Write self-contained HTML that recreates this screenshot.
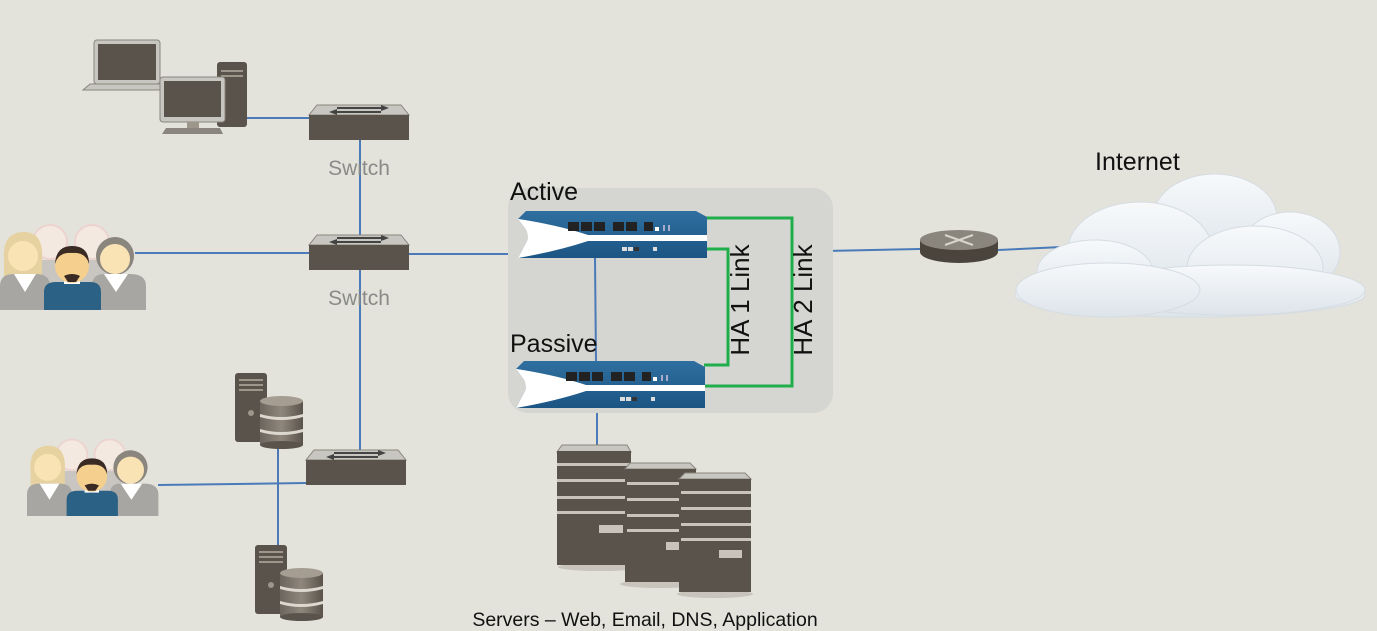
<!DOCTYPE html>
<html><head><meta charset="utf-8"><style>
html,body{margin:0;padding:0;background:#e3e3dc;}
svg{display:block;}
text{font-family:"Liberation Sans",sans-serif;}
</style></head><body>
<svg width="1377" height="631" viewBox="0 0 1377 631" xmlns="http://www.w3.org/2000/svg">
<defs>
<linearGradient id="fw" x1="0" y1="0" x2="0" y2="1"><stop offset="0" stop-color="#2f6f9f"/><stop offset="1" stop-color="#1b5584"/></linearGradient>
<linearGradient id="drum" x1="0" y1="0" x2="1" y2="0"><stop offset="0" stop-color="#6b655d"/><stop offset="0.5" stop-color="#8f877c"/><stop offset="1" stop-color="#5a534b"/></linearGradient>
<linearGradient id="cl" x1="0" y1="0" x2="0" y2="1"><stop offset="0" stop-color="#f7f9fb"/><stop offset="1" stop-color="#dde4ea"/></linearGradient>
<g id="sw">
<polygon points="8,0 92,0 100,10 0,10" fill="#c8c6c0" stroke="#8a857d" stroke-width="1"/>
<rect x="0" y="10" width="100" height="25" fill="#5a534b"/>
<line x1="28" y1="3" x2="72" y2="3" stroke="#444" stroke-width="2"/><polygon points="72,0 80,3 72,6" fill="#444"/>
<line x1="28" y1="7" x2="72" y2="7" stroke="#444" stroke-width="2"/><polygon points="28,4 20,7 28,10" fill="#444"/>
</g>
<g id="fwg">
<polygon points="8,0 178,0 189,6 189,47 0,47 12,24 0,8" fill="url(#fw)"/>
<path d="M0,8 Q40,14 70,24 L189,24 L189,30 L70,30 Q40,40 0,47 L12,24 Z" fill="#fff"/>
<path d="M0,8 Q40,14 70,26 Q40,38 0,47 Q20,26 0,8Z" fill="#fff"/>
<rect x="50" y="11" width="11" height="9" fill="#222"/><rect x="63" y="11" width="11" height="9" fill="#222"/><rect x="76" y="11" width="11" height="9" fill="#222"/>
<rect x="95" y="11" width="11" height="9" fill="#222"/><rect x="108" y="11" width="11" height="9" fill="#222"/>
<rect x="126" y="11" width="9" height="9" fill="#222"/><rect x="137" y="16" width="4" height="4" fill="#fff"/><rect x="145" y="14" width="2" height="6" fill="#aac"/><rect x="150" y="14" width="2" height="6" fill="#aac"/>
<rect x="104" y="36" width="5" height="4" fill="#ddd"/><rect x="110" y="36" width="5" height="4" fill="#ddd"/><rect x="116" y="36" width="5" height="4" fill="#333"/><rect x="135" y="36" width="4" height="4" fill="#ddd"/>
</g>
<g id="db">
<rect x="0" y="0" width="32" height="69" rx="3" fill="#5a534b"/>
<rect x="4" y="6" width="24" height="2" fill="#9d968b"/><rect x="4" y="11" width="24" height="2" fill="#9d968b"/><rect x="4" y="16" width="24" height="2" fill="#9d968b"/>
<circle cx="16" cy="40" r="3" fill="#9d968b"/>
<rect x="25" y="28" width="43" height="44" fill="url(#drum)"/>
<ellipse cx="46.5" cy="28" rx="21.5" ry="5" fill="#a59d91"/>
<path d="M25,41 Q46,47 68,41 L68,44 Q46,50 25,44Z" fill="#ddd8cf"/>
<path d="M25,56 Q46,62 68,56 L68,59 Q46,65 25,59Z" fill="#ddd8cf"/>
<ellipse cx="46.5" cy="72" rx="21.5" ry="4" fill="#5a534b"/>
</g>
<g id="people">
<!-- back -->
<circle cx="50" cy="22" r="17" fill="#f3e9e0" stroke="#ecd3cf" stroke-width="2"/>
<circle cx="92" cy="22" r="17" fill="#f3e9e0" stroke="#ecd3cf" stroke-width="2"/>
<path d="M28,75 L28,52 Q28,40 44,40 L100,40 Q114,40 114,52 L114,75Z" fill="#c9c6c1"/>
<!-- left woman -->
<path d="M4,40 Q2,12 24,12 Q44,12 42,40 L42,58 L4,58Z" fill="#e6d2a0"/>
<circle cx="23" cy="36" r="15" fill="#f9e3b4"/>
<path d="M0,90 L0,66 Q0,54 14,54 L36,54 Q50,54 50,66 L50,90Z" fill="#a8a6a2"/>
<polygon points="14,54 36,54 25,72" fill="#fff"/>
<!-- right woman -->
<circle cx="115" cy="36" r="19" fill="#8a857d"/><circle cx="115" cy="39" r="15" fill="#f9e3b4"/>
<path d="M92,90 L92,66 Q92,54 104,54 L130,54 Q146,54 146,66 L146,90Z" fill="#a8a6a2"/>
<polygon points="104,54 128,54 116,72" fill="#fff"/>
<!-- man -->
<path d="M44,90 L44,72 Q44,62 56,62 L90,62 Q101,62 101,72 L101,90Z" fill="#2a6184"/>
<rect x="64" y="58" width="16" height="6" fill="#fff"/>
<circle cx="72" cy="46" r="17" fill="#f4cf8e"/>
<path d="M55,44 Q56,26 72,26 Q89,26 89,44 Q86,32 72,33 Q58,32 55,44Z" fill="#3a2a24"/>
<path d="M64,56 Q72,52 80,56 L76,62 L68,62Z" fill="#3a2a24"/>
</g>
</defs>

<g stroke="#4a7ab8" stroke-width="2" fill="none">
<line x1="247" y1="118" x2="309" y2="118"/>
<line x1="360" y1="140" x2="360" y2="470"/>
<line x1="135" y1="253" x2="309" y2="253"/>
<line x1="409" y1="254" x2="518" y2="254"/>
<line x1="158" y1="485" x2="306" y2="483"/>
<line x1="278" y1="443" x2="278" y2="545"/>
<line x1="597" y1="408" x2="597" y2="446"/>
<line x1="825" y1="251" x2="920" y2="249"/>
<line x1="998" y1="250" x2="1062" y2="247"/>
</g>

<rect x="508" y="188" width="325" height="225" rx="20" fill="#d5d5d1"/>
<g stroke="#1fae4b" stroke-width="3" fill="none">
<polyline points="705,218 792,218 792,386 704,386"/>
<polyline points="705,249 728,249 728,365 704,365"/>
</g>
<line x1="595" y1="258" x2="596" y2="362" stroke="#4a7ab8" stroke-width="2"/>
<use href="#fwg" x="518" y="211"/>
<use href="#fwg" x="516" y="361"/>
<text x="510" y="200" font-size="25" fill="#111">Active</text>
<text x="510" y="352" font-size="25" fill="#111">Passive</text>
<text transform="translate(749,300) rotate(-90)" text-anchor="middle" font-size="26" fill="#111">HA 1 Link</text>
<text transform="translate(812,300) rotate(-90)" text-anchor="middle" font-size="26" fill="#111">HA 2 Link</text>

<use href="#sw" x="309" y="105"/>
<use href="#sw" x="309" y="235"/>
<use href="#sw" x="306" y="450"/>
<text x="359" y="175" text-anchor="middle" font-size="21" fill="#8a8a88">Switch</text>
<text x="359" y="305" text-anchor="middle" font-size="21" fill="#8a8a88">Switch</text>

<rect x="94" y="40" width="66" height="44" rx="3" fill="#c8c6c0" stroke="#8a857d"/>
<rect x="98" y="44" width="58" height="36" fill="#5a534b"/>
<polygon points="90,84 164,84 166,90 83,90" fill="#c8c6c0" stroke="#8a857d"/>
<rect x="217" y="62" width="30" height="65" rx="3" fill="#5a534b"/>
<rect x="221" y="70" width="22" height="2" fill="#9d968b"/><rect x="221" y="75" width="22" height="2" fill="#9d968b"/>
<rect x="160" y="77" width="65" height="45" rx="3" fill="#c8c6c0" stroke="#8a857d"/>
<rect x="164" y="81" width="57" height="36" fill="#5a534b"/>
<rect x="187" y="122" width="12" height="6" fill="#9d968b"/>
<polygon points="166,128 220,128 223,134 162,134" fill="#8a857d"/>

<use href="#people" x="0" y="220"/>
<g transform="translate(27,435) scale(0.9)"><use href="#people"/></g>

<use href="#db" x="235" y="373"/>
<use href="#db" x="255" y="545"/>

<g>
<ellipse cx="600" cy="567" rx="42" ry="4" fill="#c8c4bb"/>
<polygon points="562,445 627,445 631,452 557,452" fill="#c8c6c0" stroke="#8a857d"/>
<rect x="557" y="451" width="74" height="114" fill="#5a534b"/>
<g fill="#c8c4bb"><rect x="557" y="463" width="74" height="3"/><rect x="557" y="479" width="74" height="3"/><rect x="557" y="496" width="74" height="3"/><rect x="557" y="511" width="74" height="3"/><rect x="599" y="525" width="24" height="8"/></g>
<ellipse cx="660" cy="584" rx="40" ry="4" fill="#c8c4bb"/>
<polygon points="630,463 690,463 696,469 625,469" fill="#c8c6c0" stroke="#8a857d"/>
<rect x="625" y="469" width="71" height="113" fill="#5a534b"/>
<g fill="#c8c4bb"><rect x="627" y="482" width="69" height="3"/><rect x="627" y="498" width="69" height="3"/><rect x="627" y="514" width="69" height="3"/><rect x="627" y="529" width="69" height="3"/><rect x="666" y="542" width="16" height="8"/></g>
<ellipse cx="715" cy="594" rx="38" ry="4" fill="#c8c4bb"/>
<polygon points="685,473 745,473 751,479 679,479" fill="#c8c6c0" stroke="#8a857d"/>
<rect x="679" y="479" width="72" height="113" fill="#5a534b"/>
<g fill="#c8c4bb"><rect x="681" y="491" width="70" height="3"/><rect x="681" y="507" width="70" height="3"/><rect x="681" y="523" width="70" height="3"/><rect x="681" y="538" width="70" height="3"/><rect x="719" y="550" width="23" height="8"/></g>
</g>
<text x="645" y="626" text-anchor="middle" font-size="19.5" fill="#111">Servers – Web, Email, DNS, Application</text>

<ellipse cx="959" cy="252" rx="39" ry="11" fill="#4a443d"/>
<rect x="920" y="240" width="78" height="12" fill="#4a443d"/>
<ellipse cx="959" cy="240" rx="39" ry="10" fill="#8a857d"/>
<g stroke="#d8d4cc" stroke-width="2"><line x1="945" y1="235" x2="973" y2="245"/><line x1="945" y1="245" x2="973" y2="235"/></g>

<g fill="url(#cl)" stroke="#d5dce2" stroke-width="1">
<ellipse cx="1190" cy="295" rx="175" ry="22"/>
<ellipse cx="1215" cy="218" rx="62" ry="44"/>
<ellipse cx="1140" cy="250" rx="72" ry="48"/>
<ellipse cx="1290" cy="252" rx="50" ry="40"/>
<ellipse cx="1255" cy="268" rx="68" ry="42"/>
<ellipse cx="1095" cy="272" rx="58" ry="32"/>
<ellipse cx="1230" cy="290" rx="135" ry="25"/>
<ellipse cx="1108" cy="290" rx="92" ry="27"/>
</g>
<text x="1095" y="170" font-size="25" fill="#111">Internet</text>
</svg>
</body></html>
